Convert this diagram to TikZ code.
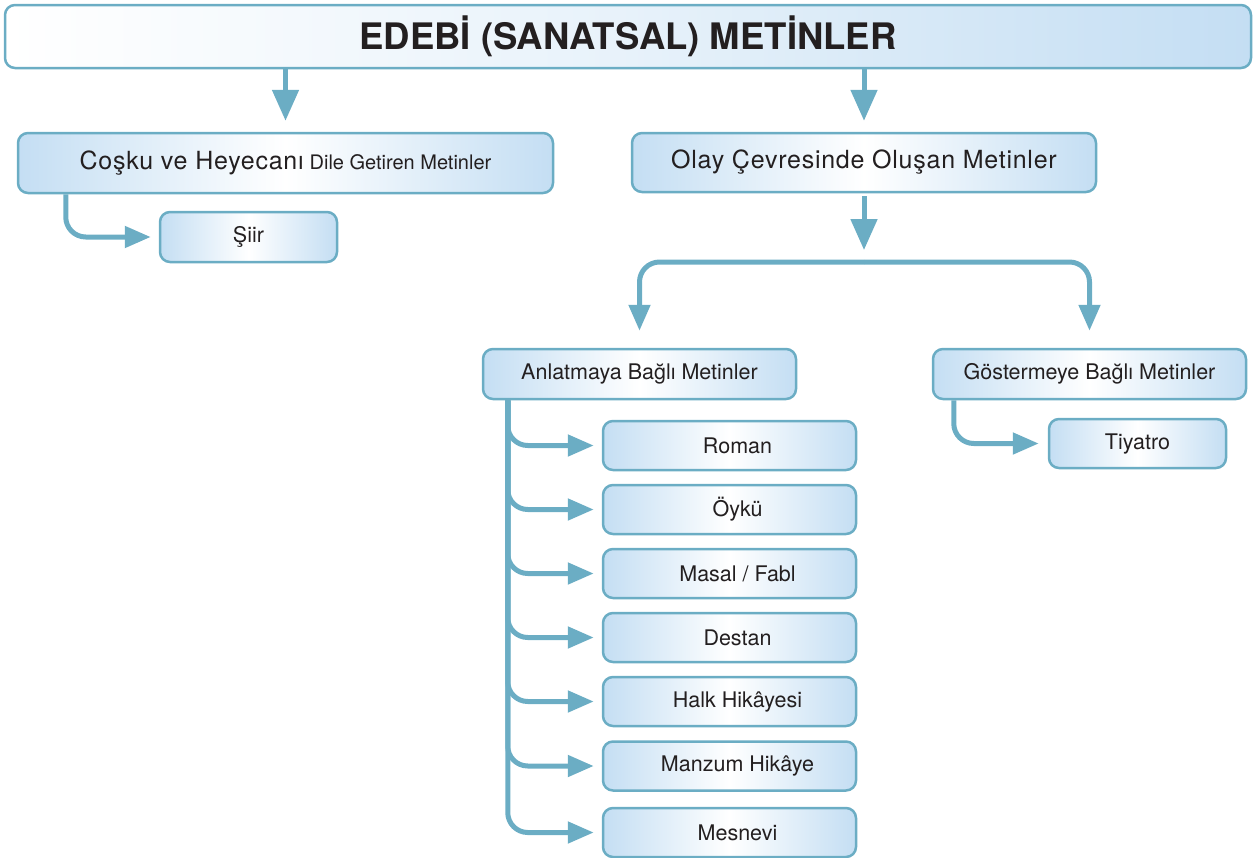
\documentclass[tikz,border=0pt]{standalone}
\usepackage{fontspec}
\setmainfont{TeX Gyre Heros}
\newfontfamily\spacedfont[LetterSpace=3]{TeX Gyre Heros}
\usetikzlibrary{arrows.meta}
\definecolor{edge}{RGB}{107,173,196}
\definecolor{boxblue}{RGB}{196,222,243}
\definecolor{txt}{RGB}{35,31,32}
\begin{document}
\begin{tikzpicture}[x=1pt,y=-1pt,
  box/.style={draw=edge, line width=2.5pt, rounded corners=10pt, inner sep=0pt,
    left color=boxblue, right color=boxblue, middle color=white, text=txt,
    font=\fontsize{21.5}{25}\selectfont},
  titlebox/.style={box, left color=white, right color=boxblue, middle color=boxblue!40!white},
  conn/.style={draw=edge, line width=5pt},
  bigarrow/.style={conn, -{Triangle[length=31pt,width=26pt]}},
  smallarrow/.style={conn, -{Triangle[length=26pt,width=21pt]}, rounded corners=20pt}
]
\useasboundingbox (0,0) rectangle (1255,857);

\node[titlebox, minimum width=1246pt, minimum height=63pt, font=\fontsize{36.5}{40}\selectfont\bfseries] (title) at (628,36.5) {EDEBİ (SANATSAL) METİNLER};

\node[box, minimum width=535pt, minimum height=60pt] (cosku) at (285.5,163)
  {{\fontsize{25}{30}\spacedfont Coşku ve Heyecanı} {\fontsize{20}{24}\selectfont Dile Getiren Metinler}};
\node[box, minimum width=464pt, minimum height=59pt, font=\fontsize{25}{30}\spacedfont] (olay) at (864,162.5) {Olay Çevresinde Oluşan Metinler};
\node[box, minimum width=177pt, minimum height=50pt] (siir) at (248.5,237) {Şiir};

\node[box, minimum width=313pt, minimum height=50pt] (anlat) at (639.5,374) {Anlatmaya Bağlı Metinler};
\node[box, minimum width=313pt, minimum height=50pt] (goster) at (1089.5,374) {Göstermeye Bağlı Metinler};
\node[box, minimum width=177pt, minimum height=49pt] (tiyatro) at (1137.5,443.5) {Tiyatro};

\foreach \n/\y/\t in {c1/445.5/Roman, c2/509.5/Öykü, c3/573.5/{Masal / Fabl}, c4/637.5/Destan, c5/701.5/Halk Hikâyesi, c6/766/Manzum Hikâye, c7/832.5/Mesnevi}{
  \node[box, minimum width=253pt, minimum height=49pt] (\n) at (729.5,\y) {\hspace*{16pt}\t};
}

\coordinate (fork) at (864,262);

\draw[bigarrow, shorten >=11pt] (title.south -| cosku.north) -- (cosku.north);
\draw[bigarrow, shorten >=11pt] (title.south -| olay.north) -- (olay.north);
\draw[bigarrow, shorten <=3pt, shorten >=12pt] (olay.south) -- (fork);
\draw[smallarrow, shorten >=17pt] (fork) -| (anlat.north);
\draw[smallarrow, shorten >=17pt] (fork) -| (goster.north);

\draw[smallarrow, shorten >=8pt] ([xshift=49pt]cosku.south west) |- (siir.west);
\draw[smallarrow, shorten >=9pt] ([xshift=22pt]goster.south west) |- (tiyatro.west);
\foreach \n in {c1,c2,c3,c4,c5,c6,c7}{
  \draw[smallarrow, shorten >=8pt] ([xshift=26pt]anlat.south west) |- (\n.west);
}
\end{tikzpicture}
\end{document}
